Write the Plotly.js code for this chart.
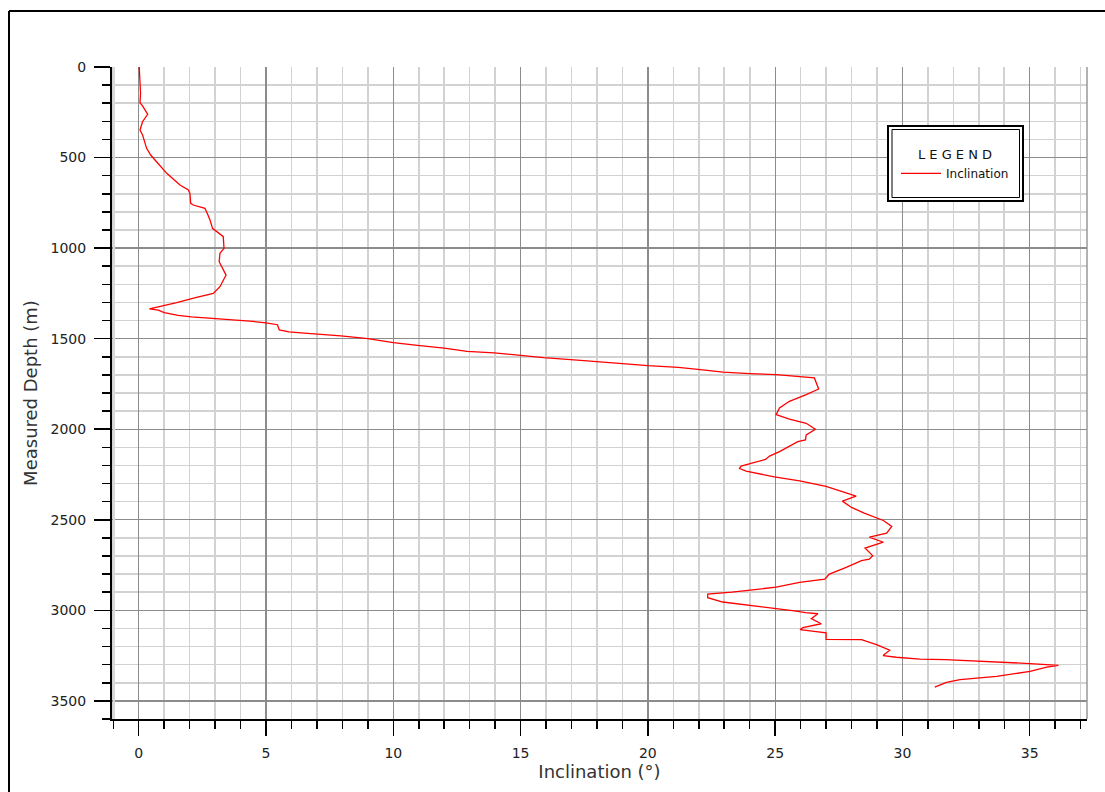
<!DOCTYPE html>
<html>
<head>
<meta charset="utf-8">
<script src="https://cdn.plot.ly/plotly-3.0.1.min.js"></script>
<style>
  html, body { margin: 0; padding: 0; background: #ffffff; }
  #chart { width: 1105px; height: 792px; }
</style>
</head>
<body>
<div id="chart"></div>
<script>
// Measured depth (m)
const depth = [0, 100, 145, 197, 215, 261, 302, 348, 375, 449, 486, 523, 587, 652, 679, 698, 753, 762, 780, 808,
  845, 891, 909, 937, 1001, 1029, 1075, 1117, 1149, 1213, 1250, 1272, 1301, 1335, 1342, 1356, 1372, 1380, 1388, 1398,
  1405, 1413, 1423, 1452, 1462, 1469, 1476, 1485, 1500, 1522, 1537, 1552, 1570, 1579, 1592, 1605, 1616, 1629, 1638, 1649,
  1658, 1671, 1685, 1693, 1698, 1717, 1778, 1809, 1846, 1883, 1920, 1944, 1967, 2000, 2031, 2059, 2069, 2124, 2148, 2167,
  2180, 2204, 2217, 2231, 2263, 2285, 2315, 2346, 2370, 2397, 2432, 2463, 2476, 2504, 2537, 2574, 2596, 2624, 2656, 2698,
  2717, 2726, 2763, 2800, 2828, 2846, 2872, 2900, 2911, 2930, 2954, 2972, 2989, 3004, 3013, 3019, 3046, 3074, 3096, 3106,
  3124, 3160, 3162, 3189, 3220, 3250, 3259, 3269, 3272, 3278, 3294, 3304, 3313, 3337, 3365, 3383, 3398, 3424];
// Inclination (deg)
const inclination = [0.02, 0.07, 0.07, 0.05, 0.15, 0.35, 0.15, 0.05, 0.15, 0.31, 0.47, 0.70, 1.10, 1.62, 1.95, 2.01, 2.04, 2.14, 2.60, 2.69,
  2.80, 2.90, 3.06, 3.32, 3.35, 3.19, 3.16, 3.30, 3.43, 3.19, 2.93, 2.27, 1.49, 0.42, 0.77, 1.00, 1.55, 2.07, 3.00, 3.87,
  4.50, 5.00, 5.45, 5.52, 5.90, 6.50, 7.18, 7.94, 9.00, 10.00, 10.95, 12.00, 12.90, 13.96, 15.00, 15.90, 16.97, 18.00, 19.00, 20.00,
  21.20, 22.06, 22.95, 24.00, 25.04, 26.54, 26.71, 26.22, 25.56, 25.17, 25.04, 25.56, 26.22, 26.58, 26.22, 26.19, 25.89, 25.17, 24.78, 24.62,
  24.25, 23.66, 23.60, 23.86, 24.97, 25.96, 27.00, 27.66, 28.18, 27.64, 28.00, 28.50, 28.72, 29.25, 29.58, 29.38, 28.70, 29.25, 28.53, 28.83,
  28.70, 28.39, 27.79, 27.13, 26.95, 25.96, 25.04, 23.30, 22.35, 22.35, 22.94, 23.99, 25.04, 25.83, 26.19, 26.68, 26.42, 26.81, 26.09, 25.98,
  27.00, 27.00, 28.39, 28.98, 29.50, 29.24, 29.76, 30.68, 31.67, 32.65, 35.01, 36.13, 35.67, 35.01, 33.70, 32.26, 31.73, 31.27];

const seriesName = 'Inclination';
const xTitle = 'Inclination (°)';
const yTitle = 'Measured Depth (m)';
const legendTitle = 'L E G E N D';

const font = 'DejaVu Sans, Verdana, sans-serif';

// plot area: left 112, right 1087, top 67, bottom 719
const L = 112, R = 1087, T = 67, B = 719;
const PW = R - L, PH = B - T;
const px = v => (v - L) / PW;
const py = v => 1 - (v - T) / PH;

const trace = {
  x: inclination,
  y: depth,
  type: 'scatter',
  mode: 'lines',
  name: seriesName,
  line: { color: '#ff0000', width: 1.3 },
  showlegend: true
};

const layout = {
  width: 1105,
  height: 792,
  margin: { l: L, r: 1105 - R, t: T, b: 792 - B, pad: 0 },
  paper_bgcolor: '#ffffff',
  plot_bgcolor: '#ffffff',
  font: { family: font, size: 14, color: '#222222' },
  xaxis: {
    range: [-1.05, 37.25],
    tickmode: 'linear', tick0: 0, dtick: 5,
    ticks: 'outside', ticklen: 15, tickwidth: 1.5, tickcolor: '#000000',
    showgrid: true, gridcolor: '#8c8c8c', gridwidth: 1.3,
    zeroline: false,
    showline: true, linecolor: '#000000', linewidth: 2,
    tickfont: { family: font, size: 14, color: '#222222' },
    ticklabelstandoff: 5,
    minor: { dtick: 1, tick0: 0, ticks: 'outside', ticklen: 8, tickwidth: 1.5, tickcolor: '#000000',
             showgrid: true, gridcolor: '#d2d2d2', gridwidth: 1.6 },
    title: { text: xTitle, font: { family: font, size: 18, color: '#333333' }, standoff: 2 },
    fixedrange: true
  },
  yaxis: {
    range: [3600, 0],
    tickmode: 'linear', tick0: 0, dtick: 500,
    ticks: 'outside', ticklen: 16, tickwidth: 1.5, tickcolor: '#000000',
    showgrid: true, gridcolor: '#8c8c8c', gridwidth: 1.3,
    zeroline: false,
    showline: true, linecolor: '#000000', linewidth: 2,
    tickfont: { family: font, size: 14, color: '#222222' },
    ticklabelstandoff: 5,
    minor: { dtick: 100, tick0: 0, ticks: 'outside', ticklen: 8, tickwidth: 1.5, tickcolor: '#000000',
             showgrid: true, gridcolor: '#d2d2d2', gridwidth: 1.6 },
    title: { text: yTitle, font: { family: font, size: 18, color: '#333333' }, standoff: 8 },
    fixedrange: true
  },
  showlegend: true,
  legend: {
    x: px(896), y: py(142), xanchor: 'left', yanchor: 'top',
    bgcolor: 'rgba(0,0,0,0)', borderwidth: 0,
    font: { family: font, size: 12, color: '#111111' },
    title: { text: legendTitle, side: 'top center', font: { family: font, size: 13, color: '#111111' } },
    itemwidth: 40
  },
  shapes: [
    // outer frame of the figure
    { type: 'line', xref: 'paper', yref: 'paper', x0: px(9), x1: px(1110), y0: py(11), y1: py(11),
      line: { color: '#000000', width: 2 } },
    { type: 'line', xref: 'paper', yref: 'paper', x0: px(9), x1: px(9), y0: py(11), y1: py(800),
      line: { color: '#000000', width: 2 } },
    // plot area right / left inner edges
    { type: 'line', xref: 'paper', yref: 'paper', x0: 1, x1: 1, y0: 0, y1: 1,
      line: { color: '#999999', width: 1.5 } },
    { type: 'line', xref: 'paper', yref: 'paper', x0: px(114), x1: px(114), y0: 0, y1: 1,
      line: { color: '#d8d8d8', width: 2 } },
    // legend box (double border)
    { type: 'rect', xref: 'paper', yref: 'paper', x0: px(888), x1: px(1023), y0: py(126), y1: py(201),
      fillcolor: '#ffffff', line: { color: '#000000', width: 2 }, layer: 'above' },
    { type: 'rect', xref: 'paper', yref: 'paper', x0: px(892), x1: px(1019.5), y0: py(129.5), y1: py(197.5),
      fillcolor: 'rgba(0,0,0,0)', line: { color: '#000000', width: 1 }, layer: 'above' }
  ]
};

Plotly.newPlot('chart', [trace], layout, { displayModeBar: false, staticPlot: true });
</script>
</body>
</html>
